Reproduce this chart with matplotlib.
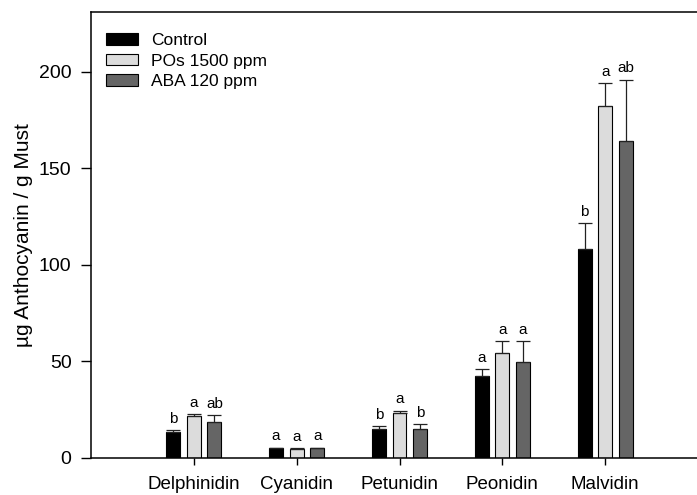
import numpy as np
import matplotlib
matplotlib.use("Agg")
import matplotlib.pyplot as plt

plt.rcParams["font.family"] = ["Liberation Sans", "DejaVu Sans"]

# ── Data ───────────────────────────────────────────────────────────────────
pigments = ["Delphinidin", "Cyanidin", "Petunidin", "Peonidin", "Malvidin"]
groups = ["Control", "POs 1500 ppm", "ABA 120 ppm"]

control = [13.5, 5.0, 15.0, 42.5, 108.5]
pos = [21.8, 4.8, 23.5, 54.4, 182.3]
aba = [18.6, 5.0, 15.0, 49.7, 164.0]

control_err = [1.0, 0.3, 1.5, 3.5, 13.0]
pos_err = [1.0, 0.3, 1.0, 6.2, 11.8]
aba_err = [3.7, 0.4, 2.6, 10.8, 32.0]

control_sig = ["b", "a", "b", "a", "b"]
pos_sig = ["a", "a", "a", "a", "a"]
aba_sig = ["ab", "a", "b", "a", "ab"]

colors = ["#000000", "#dcdcdc", "#656565"]

# ── Figure ─────────────────────────────────────────────────────────────────
fig = plt.figure(figsize=(6.97, 4.95), dpi=100)
ax = fig.add_axes([91 / 697, 37 / 495, (708 - 91) / 697, 446 / 495])

x = np.arange(1, len(pigments) + 1)
offset = 0.2
width = 0.135

series = [(control, control_err, control_sig),
          (pos, pos_err, pos_sig),
          (aba, aba_err, aba_sig)]

for i, (vals, errs, sigs) in enumerate(series):
    xs = x + (i - 1) * offset
    ax.bar(xs, vals, width, color=colors[i], edgecolor="black", linewidth=0.8,
           label=groups[i], zorder=2)
    ax.errorbar(xs, vals, yerr=[np.zeros(len(vals)), errs], fmt="none",
                ecolor="#222222", elinewidth=0.9, capsize=4.7, capthick=0.9, zorder=3)
    for xi, v, e, s in zip(xs, vals, errs, sigs):
        ax.text(xi, v + e + 2.3, s, ha="center", va="bottom", fontsize=11)

ax.set_xlim(0, 6)
ax.set_ylim(0, 231)
ax.set_xticks(x)
ax.set_xticklabels(pigments, fontsize=13.5)
ax.set_yticks([0, 50, 100, 150, 200])
ax.tick_params(axis="y", labelsize=14, direction="out", length=7, width=1, pad=7)
ax.tick_params(axis="x", direction="out", length=5, width=1, pad=8)
ax.set_ylabel("µg Anthocyanin / g Must", fontsize=15, labelpad=4)

ax.spines["right"].set_visible(False)
for sp in ax.spines.values():
    sp.set_linewidth(1.1)

ax.legend(loc="upper left", frameon=False, fontsize=12.5,
          handlelength=1.85, handleheight=0.65, labelspacing=0.32,
          borderaxespad=0.0, bbox_to_anchor=(0.013, 0.968), handletextpad=0.75)

plt.savefig("out.png", dpi=100)
